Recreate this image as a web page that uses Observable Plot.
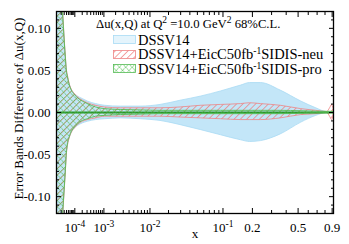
<!DOCTYPE html>
<html><head><meta charset="utf-8">
<script src="https://cdn.jsdelivr.net/npm/d3@7"></script>
<script src="https://cdn.jsdelivr.net/npm/@observablehq/plot@0.6"></script>
<style>
html,body{margin:0;padding:0;background:#fff;}
#wrap{position:relative;width:349px;height:244px;font-family:"Liberation Serif","Times New Roman",serif;}
.lg{position:absolute;font-size:14.5px;line-height:15px;white-space:nowrap;color:#000;}
.lt{font-size:12.7px;}
.sw{position:absolute;}
.sp{font-size:9.5px;position:relative;top:-5px;}
</style></head><body><div id="wrap"></div>
<script>
const xs = [1e-5,1.9e-5,2.5e-5,2.9e-5,3.25e-5,3.7e-5,4.1e-5,4.7e-5,5.9e-5,7.3e-5,1e-4,1.35e-4,2.1e-4,3.2e-4,5.9e-4,1.07e-3,2.65e-3,6.8e-3,0.015,0.03,0.056,0.095,0.155,0.19,0.24,0.36,0.53,0.69,0.83,0.87,0.9,0.92];
const dssvUp = [0.36,0.21,0.127,0.102,0.084,0.066,0.052,0.044,0.033,0.027,0.022,0.019,0.016,0.013,0.010,0.008,0.007,0.007,0.009,0.014,0.019,0.025,0.032,0.035,0.035,0.026,0.013,0.005,0.0005,0.0005,0.0005,0.0005];
const dssvLo = [-0.36,-0.23,-0.132,-0.107,-0.09,-0.07,-0.052,-0.04,-0.03,-0.024,-0.019,-0.016,-0.013,-0.011,-0.009,-0.008,-0.007,-0.008,-0.010,-0.015,-0.021,-0.027,-0.033,-0.035,-0.034,-0.026,-0.012,-0.004,-0.0005,-0.0005,-0.0005,-0.0005];
const neuUp = [0.36,0.21,0.127,0.102,0.084,0.066,0.052,0.044,0.033,0.027,0.022,0.018,0.014,0.011,0.008,0.006,0.005,0.005,0.005,0.006,0.008,0.009,0.010,0.011,0.010,0.008,0.004,0.002,0.0005,0.005,0.009,0.004];
const neuLo = [-0.36,-0.23,-0.132,-0.107,-0.09,-0.07,-0.052,-0.04,-0.03,-0.024,-0.019,-0.015,-0.011,-0.009,-0.007,-0.005,-0.005,-0.005,-0.005,-0.006,-0.007,-0.008,-0.009,-0.009,-0.009,-0.007,-0.003,-0.002,-0.0005,-0.005,-0.009,-0.004];
const proUp = [0.35,0.2,0.125,0.10,0.082,0.064,0.05,0.042,0.032,0.026,0.021,0.017,0.013,0.010,0.006,0.004,0.003,0.0025,0.002,0.002,0.002,0.002,0.002,0.002,0.002,0.002,0.0015,0.001,0.0008,0.0008,0.0008,0.0008];
const proLo = [-0.35,-0.22,-0.13,-0.105,-0.088,-0.068,-0.05,-0.038,-0.029,-0.023,-0.018,-0.014,-0.010,-0.008,-0.005,-0.004,-0.003,-0.0025,-0.002,-0.002,-0.002,-0.002,-0.002,-0.002,-0.002,-0.002,-0.0015,-0.001,-0.0008,-0.0008,-0.0008,-0.0008];

const xMajor = [1e-4,1e-3,1e-2,0.1,0.2,0.5,0.9];
const xMajorLabels = ["10^-4","10^-3","10^-2","10^-1","0.2","0.5","0.9"];
const xMinor = [2e-5,3e-5,4e-5,5e-5,6e-5,7e-5,8e-5,9e-5,2e-4,3e-4,4e-4,5e-4,6e-4,7e-4,8e-4,9e-4,2e-3,3e-3,4e-3,5e-3,6e-3,7e-3,8e-3,9e-3,0.02,0.03,0.04,0.05,0.06,0.07,0.08,0.09,0.3,0.4,0.6,0.7,0.8];
const yMajor = [-0.10,-0.05,0,0.05,0.10];
const yMajorLabels = ["-0.10","-0.05","0.00","0.05","0.10"];
const yMinor = [-0.12,-0.11,-0.09,-0.08,-0.07,-0.06,-0.04,-0.03,-0.02,-0.01,0.01,0.02,0.03,0.04,0.06,0.07,0.08,0.09,0.11,0.12];

const rows = xs.map((x,i)=>({x, bUp:dssvUp[i], bLo:dssvLo[i], rUp:neuUp[i], rLo:neuLo[i], gUp:proUp[i], gLo:proLo[i]}));
const xLab = new Map(xMajor.map((d,i)=>[d,xMajorLabels[i]]));
const yLab = new Map(yMajor.map((d,i)=>[d,yMajorLabels[i]]));
const F = "Liberation Serif";
const curve = "monotone-x";

const svg = Plot.plot({
  width:349, height:244,
  marginLeft:56, marginRight:16, marginTop:11, marginBottom:31,
  style:{fontFamily:F, background:"#fff"},
  x:{type:"pow", exponent:0.2, domain:[1e-5,0.92]},
  y:{domain:[-0.12,0.12]},
  marks:[
    Plot.areaY(rows,{x:"x",y1:"bLo",y2:"bUp",fill:"#c3e6f8",stroke:"#a9dbf4",strokeWidth:0.8,curve,clip:true}),
    Plot.areaY(rows,{x:"x",y1:"rLo",y2:"rUp",fill:"url(#hatchRed)",stroke:"#ee8484",strokeWidth:0.8,curve,clip:true}),
    Plot.ruleY([0],{stroke:"#2a962a",strokeWidth:2}),
    Plot.areaY(rows,{x:"x",y1:"gLo",y2:"gUp",fill:"url(#hatchGreen)",stroke:"#55bb55",strokeWidth:0.9,curve,clip:true}),
    Plot.frame({stroke:"#000",strokeWidth:1.3}),
    Plot.axisX(xMajor,{anchor:"bottom",tickSize:-5,tickPadding:14,tickFormat:d=>xLab.get(d),fontSize:13,fontFamily:F,label:null}),
    Plot.axisX(xMinor,{anchor:"bottom",tickSize:-3,fill:"none",label:null}),
    Plot.axisX(xMajor,{anchor:"top",tickSize:-5,fill:"none",label:null}),
    Plot.axisX(xMinor,{anchor:"top",tickSize:-3,fill:"none",label:null}),
    Plot.axisY(yMajor,{anchor:"left",tickSize:-5,tickPadding:11,tickFormat:d=>yLab.get(d),fontSize:13,fontFamily:F,label:null}),
    Plot.axisY(yMinor,{anchor:"left",tickSize:-3,fill:"none",label:null}),
    Plot.axisY(yMajor,{anchor:"right",tickSize:-5,fill:"none",label:null}),
    Plot.axisY(yMinor,{anchor:"right",tickSize:-3,fill:"none",label:null}),
    Plot.text(["x"],{text:d=>d,frameAnchor:"bottom",dy:24,fontSize:13,fontFamily:F}),
    Plot.text(["Error Bands Difference of \u0394u(x,Q)"],{text:d=>d,frameAnchor:"left",textAnchor:"middle",dx:-38,dy:-4,rotate:-90,fontSize:13,fontFamily:F})
  ]
});

// render "10^-4" style labels with a real superscript
d3.select(svg).selectAll("text").each(function(){
  const t = this.textContent;
  if (t.includes("^")) {
    const [b,e] = t.split("^");
    const s = d3.select(this); s.text(null);
    s.append("tspan").text(b);
    s.append("tspan").attr("dy","-5").attr("font-size","9.5").text(e);
  }
});

const defs = d3.select(svg).insert("defs",":first-child");
const pr = defs.append("pattern").attr("id","hatchRed").attr("patternUnits","userSpaceOnUse")
  .attr("width",4.5).attr("height",4.5).attr("patternTransform","rotate(45)");
pr.append("line").attr("x1",2.25).attr("y1",0).attr("x2",2.25).attr("y2",4.5).attr("stroke","#ef7c7c").attr("stroke-width",0.7);
const pg = defs.append("pattern").attr("id","hatchGreen").attr("patternUnits","userSpaceOnUse")
  .attr("width",4.5).attr("height",4.5).attr("patternTransform","rotate(45)");
pg.append("line").attr("x1",2.25).attr("y1",0).attr("x2",2.25).attr("y2",4.5).attr("stroke","#4fbf4f").attr("stroke-width",0.7).attr("stroke-dasharray","1 0.5");
pg.append("line").attr("x1",0).attr("y1",2.25).attr("x2",4.5).attr("y2",2.25).attr("stroke","#4fbf4f").attr("stroke-width",0.7).attr("stroke-dasharray","1 0.5");

const wrap = document.getElementById("wrap");
wrap.appendChild(svg);

const legendTitle = 'Δu(x,Q) at Q<span class="sp">2</span> =10.0 GeV<span class="sp">2</span> 68%C.L.';
const legendNames = ['DSSV14','DSSV14+EicC50fb<span class="sp">-1</span>SIDIS-neu','DSSV14+EicC50fb<span class="sp">-1</span>SIDIS-pro'];
const swFill = ["#e4f4fc","url(#hatchRed)","url(#hatchGreen)"];
const swStroke = ["#a9dbf4","#ee8484","#55bb55"];
function add(html, left, top, cls){const d=document.createElement("div");d.className="lg"+(cls?" "+cls:"");d.style.left=left+"px";d.style.top=top+"px";d.innerHTML=html;wrap.appendChild(d);return d;}
add(legendTitle, 96, 17, "lt");
legendNames.forEach((n,i)=>{
  const cy = 40 + i*14.5;
  const s = document.createElementNS("http://www.w3.org/2000/svg","svg");
  s.setAttribute("class","sw"); s.setAttribute("width",24); s.setAttribute("height",10);
  s.style.left="113px"; s.style.top=(cy-5)+"px";
  s.innerHTML = `<rect x="0.5" y="0.5" width="22" height="8" fill="${swFill[i]}" stroke="${swStroke[i]}" stroke-width="0.8"/>`;
  wrap.appendChild(s);
  add(n, 138, cy-7.5);
});
</script>
</body></html>
